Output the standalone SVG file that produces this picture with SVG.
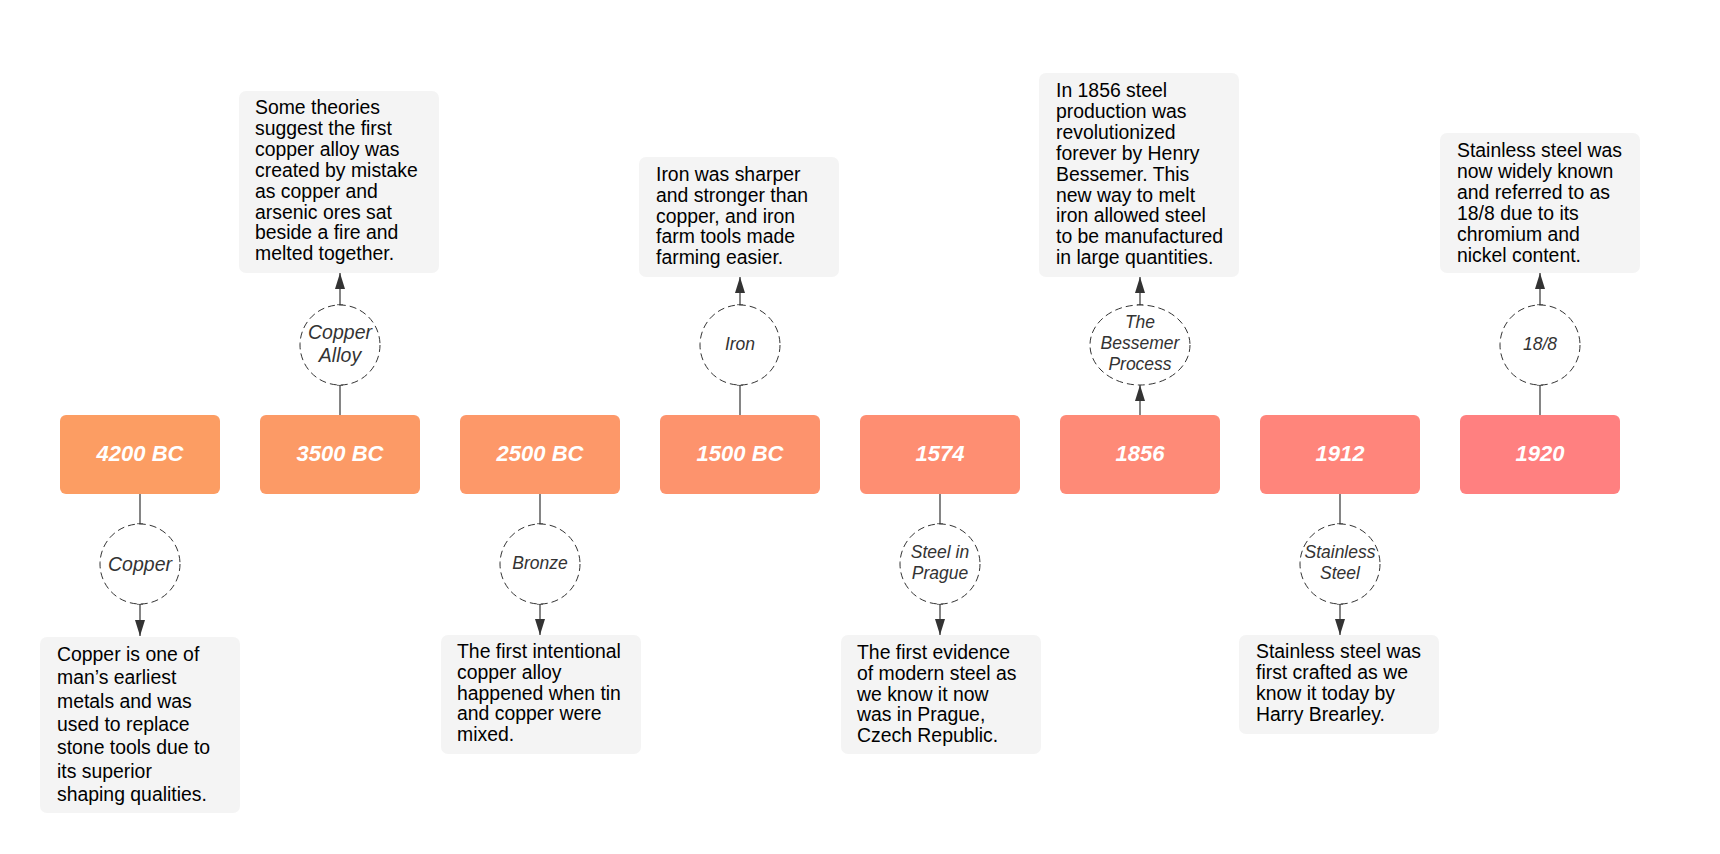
<svg xmlns="http://www.w3.org/2000/svg" width="1720" height="854" viewBox="0 0 1720 854">
<defs>
<style>
.yr{stroke:none}
.yt{font-family:"Liberation Sans",Arial,sans-serif;font-weight:bold;font-style:italic;font-size:22px;fill:#ffffff;text-anchor:middle}
.desc{fill:#f4f4f4;stroke:none}
.dt{font-family:"Liberation Sans",Arial,sans-serif;font-size:19.4px;fill:#000000}
.ev{fill:#ffffff;stroke:#333333;stroke-width:1;stroke-dasharray:7 4}
.el{font-family:"Liberation Sans",Arial,sans-serif;font-style:italic;font-size:17.5px;fill:#333333;text-anchor:middle}
.el2{font-size:19.5px}
.ln{stroke:#333333;stroke-width:1.2;fill:none}
.ar{stroke:#333333;stroke-width:1.2;fill:none;marker-end:url(#ah)}
</style>
<marker id="ah" markerUnits="userSpaceOnUse" markerWidth="16" markerHeight="10" refX="16" refY="5" viewBox="0 0 16 10" orient="auto">
<path d="M0,0 L16,5 L0,10 Z" fill="#333333"/>
</marker>
</defs>
<rect width="1720" height="854" fill="#ffffff"/>

<g id="connectors">
<line class="ln" x1="140" y1="494" x2="140" y2="524"/>
<line class="ln" x1="137" y1="524" x2="143" y2="524"/>
<line class="ln" x1="137" y1="604" x2="143" y2="604"/>
<line class="ar" x1="140" y1="604" x2="140" y2="636"/>

<line class="ln" x1="340" y1="415" x2="340" y2="385"/>
<line class="ln" x1="337" y1="385" x2="343" y2="385"/>
<line class="ln" x1="337" y1="305" x2="343" y2="305"/>
<line class="ar" x1="340" y1="305" x2="340" y2="273"/>

<line class="ln" x1="540" y1="494" x2="540" y2="524"/>
<line class="ln" x1="537" y1="524" x2="543" y2="524"/>
<line class="ln" x1="537" y1="604" x2="543" y2="604"/>
<line class="ar" x1="540" y1="604" x2="540" y2="635"/>

<line class="ln" x1="740" y1="415" x2="740" y2="385"/>
<line class="ln" x1="737" y1="385" x2="743" y2="385"/>
<line class="ln" x1="737" y1="305" x2="743" y2="305"/>
<line class="ar" x1="740" y1="305" x2="740" y2="277"/>

<line class="ln" x1="940" y1="494" x2="940" y2="524"/>
<line class="ln" x1="937" y1="524" x2="943" y2="524"/>
<line class="ln" x1="937" y1="604" x2="943" y2="604"/>
<line class="ar" x1="940" y1="604" x2="940" y2="635"/>

<line class="ar" x1="1140" y1="415" x2="1140" y2="385"/>
<line class="ln" x1="1137" y1="305" x2="1143" y2="305"/>
<line class="ar" x1="1140" y1="305" x2="1140" y2="277"/>

<line class="ln" x1="1340" y1="494" x2="1340" y2="524"/>
<line class="ln" x1="1337" y1="524" x2="1343" y2="524"/>
<line class="ln" x1="1337" y1="604" x2="1343" y2="604"/>
<line class="ar" x1="1340" y1="604" x2="1340" y2="635"/>

<line class="ln" x1="1540" y1="415" x2="1540" y2="385"/>
<line class="ln" x1="1537" y1="385" x2="1543" y2="385"/>
<line class="ln" x1="1537" y1="305" x2="1543" y2="305"/>
<line class="ar" x1="1540" y1="305" x2="1540" y2="273"/>
</g>

<!-- year boxes -->
<g id="y4200"><rect class="yr" x="60" y="415" width="160" height="79" rx="6" fill="#FC9D63"/><text class="yt" x="140" y="460.5">4200 BC</text></g>
<g id="y3500"><rect class="yr" x="260" y="415" width="160" height="79" rx="6" fill="#FC9A66"/><text class="yt" x="340" y="460.5">3500 BC</text></g>
<g id="y2500"><rect class="yr" x="460" y="415" width="160" height="79" rx="6" fill="#FD9869"/><text class="yt" x="540" y="460.5">2500 BC</text></g>
<g id="y1500"><rect class="yr" x="660" y="415" width="160" height="79" rx="6" fill="#FD936D"/><text class="yt" x="740" y="460.5">1500 BC</text></g>
<g id="y1574"><rect class="yr" x="860" y="415" width="160" height="79" rx="6" fill="#FE8E72"/><text class="yt" x="940" y="460.5">1574</text></g>
<g id="y1856"><rect class="yr" x="1060" y="415" width="160" height="79" rx="6" fill="#FE8A77"/><text class="yt" x="1140" y="460.5">1856</text></g>
<g id="y1912"><rect class="yr" x="1260" y="415" width="160" height="79" rx="6" fill="#FF857B"/><text class="yt" x="1340" y="460.5">1912</text></g>
<g id="y1920"><rect class="yr" x="1460" y="415" width="160" height="79" rx="6" fill="#FF8080"/><text class="yt" x="1540" y="460.5">1920</text></g>

<!-- event circles -->
<g id="e-copper"><circle class="ev" cx="140" cy="564" r="40"/><text class="el el2" x="140" y="571">Copper</text></g>
<g id="e-copperalloy"><circle class="ev" cx="340" cy="345" r="40"/><text class="el el2" x="340" y="338.5">Copper</text><text class="el el2" x="340" y="362">Alloy</text></g>
<g id="e-bronze"><circle class="ev" cx="540" cy="564" r="40"/><text class="el" x="540" y="569">Bronze</text></g>
<g id="e-iron"><circle class="ev" cx="740" cy="345" r="40"/><text class="el" x="740" y="349.5">Iron</text></g>
<g id="e-prague"><circle class="ev" cx="940" cy="564" r="40"/><text class="el" x="940" y="558">Steel in</text><text class="el" x="940" y="579">Prague</text></g>
<g id="e-bessemer"><ellipse class="ev" cx="1140" cy="345" rx="50" ry="40"/><text class="el" x="1140" y="328">The</text><text class="el" x="1140" y="349">Bessemer</text><text class="el" x="1140" y="370">Process</text></g>
<g id="e-stainless"><circle class="ev" cx="1340" cy="564" r="40"/><text class="el" x="1340" y="558">Stainless</text><text class="el" x="1340" y="579">Steel</text></g>
<g id="e-188"><circle class="ev" cx="1540" cy="345" r="40"/><text class="el" x="1540" y="349.5">18/8</text></g>

<!-- descriptions -->
<g id="d-copper"><rect class="desc" x="40" y="637" width="200" height="176" rx="7"/>
<text class="dt" x="57" y="661"><tspan x="57">Copper is one of</tspan><tspan x="57" dy="23.3">man’s earliest</tspan><tspan x="57" dy="23.3">metals and was</tspan><tspan x="57" dy="23.3">used to replace</tspan><tspan x="57" dy="23.3">stone tools due to</tspan><tspan x="57" dy="23.3">its superior</tspan><tspan x="57" dy="23.3">shaping qualities.</tspan></text></g>

<g id="d-copperalloy"><rect class="desc" x="239" y="91" width="200" height="182" rx="7"/>
<text class="dt" x="255" y="114"><tspan x="255">Some theories</tspan><tspan x="255" dy="20.9">suggest the first</tspan><tspan x="255" dy="20.9">copper alloy was</tspan><tspan x="255" dy="20.9">created by mistake</tspan><tspan x="255" dy="20.9">as copper and</tspan><tspan x="255" dy="20.9">arsenic ores sat</tspan><tspan x="255" dy="20.9">beside a fire and</tspan><tspan x="255" dy="20.9">melted together.</tspan></text></g>

<g id="d-bronze"><rect class="desc" x="441" y="635" width="200" height="119" rx="7"/>
<text class="dt" x="457" y="658"><tspan x="457">The first intentional</tspan><tspan x="457" dy="20.8">copper alloy</tspan><tspan x="457" dy="20.8">happened when tin</tspan><tspan x="457" dy="20.8">and copper were</tspan><tspan x="457" dy="20.8">mixed.</tspan></text></g>

<g id="d-iron"><rect class="desc" x="639" y="157" width="200" height="120" rx="7"/>
<text class="dt" x="656" y="181"><tspan x="656">Iron was sharper</tspan><tspan x="656" dy="20.8">and stronger than</tspan><tspan x="656" dy="20.8">copper, and iron</tspan><tspan x="656" dy="20.8">farm tools made</tspan><tspan x="656" dy="20.8">farming easier.</tspan></text></g>

<g id="d-prague"><rect class="desc" x="841" y="635" width="200" height="119" rx="7"/>
<text class="dt" x="857" y="659"><tspan x="857">The first evidence</tspan><tspan x="857" dy="20.8">of modern steel as</tspan><tspan x="857" dy="20.8">we know it now</tspan><tspan x="857" dy="20.8">was in Prague,</tspan><tspan x="857" dy="20.8">Czech Republic.</tspan></text></g>

<g id="d-bessemer"><rect class="desc" x="1039" y="73" width="200" height="204" rx="7"/>
<text class="dt" x="1056" y="97"><tspan x="1056">In 1856 steel</tspan><tspan x="1056" dy="20.9">production was</tspan><tspan x="1056" dy="20.9">revolutionized</tspan><tspan x="1056" dy="20.9">forever by Henry</tspan><tspan x="1056" dy="20.9">Bessemer. This</tspan><tspan x="1056" dy="20.9">new way to melt</tspan><tspan x="1056" dy="20.9">iron allowed steel</tspan><tspan x="1056" dy="20.9">to be manufactured</tspan><tspan x="1056" dy="20.9">in large quantities.</tspan></text></g>

<g id="d-stainless"><rect class="desc" x="1239" y="635" width="200" height="99" rx="7"/>
<text class="dt" x="1256" y="658"><tspan x="1256">Stainless steel was</tspan><tspan x="1256" dy="20.9">first crafted as we</tspan><tspan x="1256" dy="20.9">know it today by</tspan><tspan x="1256" dy="20.9">Harry Brearley.</tspan></text></g>

<g id="d-188"><rect class="desc" x="1440" y="133" width="200" height="140" rx="7"/>
<text class="dt" x="1457" y="157"><tspan x="1457">Stainless steel was</tspan><tspan x="1457" dy="20.9">now widely known</tspan><tspan x="1457" dy="20.9">and referred to as</tspan><tspan x="1457" dy="20.9">18/8 due to its</tspan><tspan x="1457" dy="20.9">chromium and</tspan><tspan x="1457" dy="20.9">nickel content.</tspan></text></g>
</svg>
